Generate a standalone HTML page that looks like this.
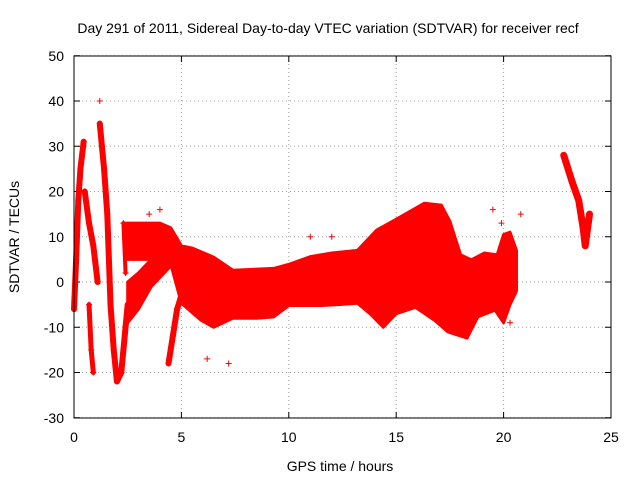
<!DOCTYPE html>
<html><head><meta charset="utf-8"><style>
body{margin:0;background:#fff}
svg{display:block;font-family:"Liberation Sans",sans-serif}
</style></head><body>
<svg id="chart" width="640" height="480" viewBox="0 0 640 480">
<text x="328" y="33" font-size="14" text-anchor="middle">Day 291 of 2011, Sidereal Day-to-day VTEC variation (SDTVAR) for receiver recf</text>
<text x="340" y="471" font-size="14" text-anchor="middle">GPS time / hours</text>
<text transform="translate(19,237) rotate(-90)" font-size="14" text-anchor="middle">SDTVAR / TECUs</text>
<g id="grid"></g><g id="ticks"></g><g id="marks"></g>
<rect x="74" y="56" width="537" height="362" fill="none" stroke="#000"/>
</svg>
<script>
const xTicks=[0,5,10,15,20,25];
const yTicks=[-30,-20,-10,0,10,20,30,40,50];
const upperT=[2.4,3,4,4.5,5,5.5,6.5,7.4,9.3,10,11,12,13.2,14.1,15.2,16.3,17.1,17.5,18,18.5,19.1,19.7,20,20.3,20.6];
const upperV=[13,13,13,12,8,7.5,5.5,2.6,3,3.9,5.6,6.4,7,11.5,14.4,17.4,17,13.4,6,4.9,6.4,6,10.5,11,7];
const lowerT=[2.4,3,4,4.5,5,5.9,6.5,7.4,8.5,9.3,10,11.5,12.3,13.2,13.8,14.4,15,15.9,16.8,17.4,18.3,18.8,19.6,20,20.3,20.6];
const lowerV=[5,5,5,4,-4.7,-8.4,-10,-8,-8,-7.7,-5.2,-5.2,-5,-4.7,-7.1,-10,-7,-5.6,-8.5,-11,-12.4,-7.7,-6.2,-9,-5,-2];
const strandBT=[2.5,3,3.6,4.6];
const strandBTop=[0,2,5,6];
const strandBBottom=[-9,-6,-1,4];
const trace1T=[0,0.1,0.2,0.3,0.45];
const trace1V=[-6,5,18,25,31];
const trace2T=[0.5,0.7,0.9,1.1];
const trace2V=[20,13,8,0];
const trace3T=[0.7,0.8,0.9];
const trace3V=[-5,-15,-20];
const traceMainT=[1.2,1.4,1.55,1.7,1.85,2.0,2.2,2.4,2.5];
const traceMainV=[35,25,15,-5,-15,-22,-20,-10,-5];
const trace4T=[2.3,2.4];
const trace4V=[13,2];
const traceCT=[4.4,4.6,4.8,5];
const traceCV=[-18,-12,-6,-3];
const traceLateT=[22.8,23,23.2,23.5,23.7,23.8,24];
const traceLateV=[28,25,22,18,12,8,15];
const outlierT=[1.2,6.2,7.2,19.5,20.8,11,12,4,3.5,19.9,20.3];
const outlierV=[40,-17,-18,16,15,10,10,16,15,13,-9];
const X=t=>74+t*(537/25), Y=v=>282-v*(362/80);
const NS="http://www.w3.org/2000/svg";
function mk(tag,attrs,parent){const e=document.createElementNS(NS,tag);for(const k in attrs)e.setAttribute(k,attrs[k]);document.getElementById(parent).appendChild(e);return e;}
xTicks.forEach(t=>{
 const g=mk('line',{x1:X(t),x2:X(t),y1:56,y2:418,stroke:'#a0a0a0','stroke-dasharray':'1,3'},'grid');
 
 
 const l=mk('text',{x:X(t),y:442,'font-size':14,'text-anchor':'middle'},'ticks');l.textContent=t;
 
 
 mk('line',{x1:X(t),x2:X(t),y1:418,y2:412,stroke:'#000'},'ticks');
 mk('line',{x1:X(t),x2:X(t),y1:56,y2:62,stroke:'#000'},'ticks');
});
yTicks.forEach(v=>{
 const g=mk('line',{x1:74,x2:611,y1:Y(v),y2:Y(v),stroke:'#a0a0a0','stroke-dasharray':'1,3'},'grid');
 
 
 const l=mk('text',{x:64,y:Y(v)+5,'font-size':14,'text-anchor':'end'},'ticks');l.textContent=v;
 
 
 mk('line',{x1:74,x2:80,y1:Y(v),y2:Y(v),stroke:'#000'},'ticks');
 mk('line',{x1:611,x2:605,y1:Y(v),y2:Y(v),stroke:'#000'},'ticks');
});
function band(uT,uV,lT,lV,name){
 let pts=uT.map((t,i)=>X(t)+','+Y(uV[i]));
 for(let i=lT.length-1;i>=0;i--)pts.push(X(lT[i])+','+Y(lV[i]));
 const p=mk('polygon',{points:pts.join(' '),fill:'#ff0000',stroke:'#ff0000','stroke-width':3,'stroke-linejoin':'round'},'marks');
 
 
}
band(upperT,upperV,lowerT,lowerV,'sdtvar-dense-band');
band(strandBT,strandBTop,strandBT,strandBBottom,'rising-strand-b');
function plus(t,v){mk('path',{d:`M${X(t)-3},${Y(v)}h6M${X(t)},${Y(v)-3}v6`,stroke:'#ff0000','stroke-width':1},'marks');}
function trace(T,V,name,w){
 const p=mk('polyline',{points:T.map((t,i)=>X(t)+','+Y(V[i])).join(' '),fill:'none',stroke:'#ff0000','stroke-width':w,'stroke-linejoin':'round','stroke-linecap':'round'},'marks');
 
 
 T.forEach((t,i)=>plus(t,V[i]));
}
trace(trace1T,trace1V,'early-trace-1',6);
trace(trace2T,trace2V,'early-trace-2',6);
trace(trace3T,trace3V,'early-trace-3',5);
trace(traceMainT,traceMainV,'early-main-trace',6);
trace(trace4T,trace4V,'early-trace-4',4);
trace(traceCT,traceCV,'rising-strand-c',6);
trace(traceLateT,traceLateV,'late-trace',7);
outlierT.forEach((t,i)=>plus(t,outlierV[i]));
</script>
</body></html>
